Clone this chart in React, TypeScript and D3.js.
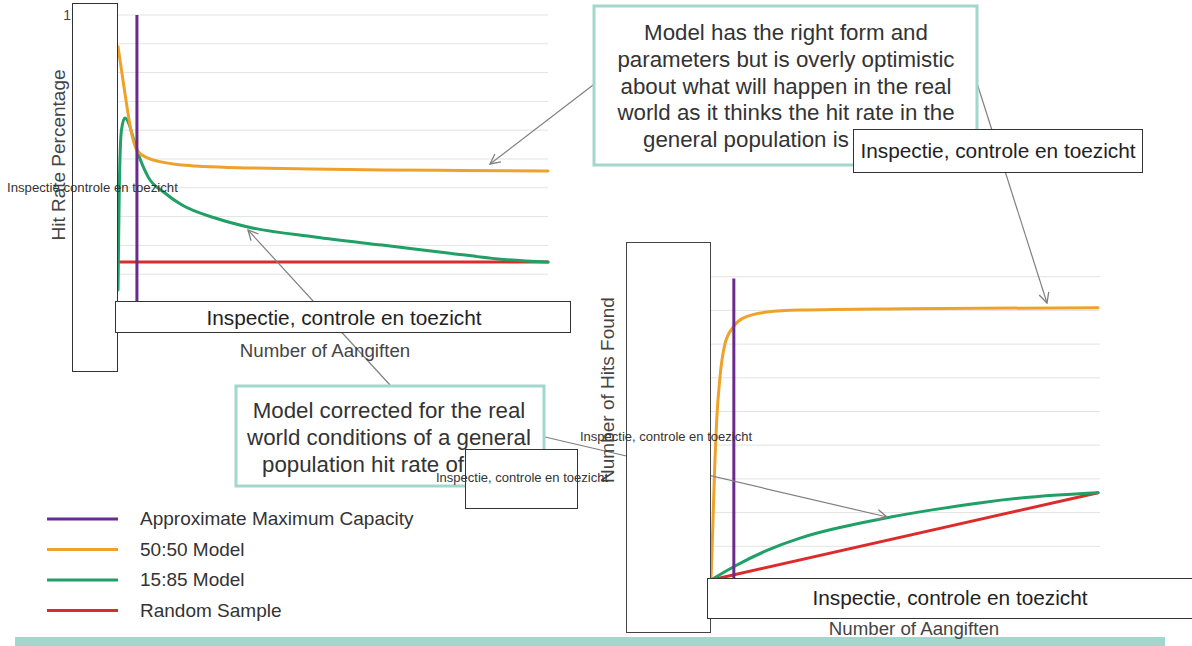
import React from 'react';
import * as d3 from 'd3';

// ---------- data ----------
const leftX50 = [0, 1, 2, 3, 4.4, 7, 10, 14.9, 20, 30.2, 45, 61.4, 80, 100];
const leftHit50 = [0.89, 0.79, 0.69, 0.6, 0.531, 0.503, 0.49, 0.479, 0.474, 0.469, 0.465, 0.462, 0.46, 0.458];
const leftX15 = [0, 0.3, 0.8, 1.6, 2.6, 3.5, 4.4, 7, 10.9, 14.9, 22.6, 30.2, 45.8, 61.4, 76.7, 88.4, 100];
const leftHit15 = [0.045, 0.4, 0.6, 0.642, 0.62, 0.575, 0.531, 0.438, 0.382, 0.34, 0.295, 0.264, 0.229, 0.201, 0.174, 0.153, 0.142];
const leftXRandom = [0, 100];
const leftHitRandom = [0.142, 0.142];
const leftCapacity = 4.4;
const leftTicks = [0.1, 0.2, 0.3, 0.4, 0.5, 0.6, 0.7, 0.8, 0.9, 1];

const rightX50 = [0, 0.5, 1, 1.5, 2.3, 3.6, 5.7, 8.3, 14.5, 23, 50, 100];
const rightHits50 = [0, 0.17, 0.35, 0.48, 0.6, 0.7, 0.75, 0.777, 0.795, 0.801, 0.805, 0.808];
const rightX15 = [0, 5.7, 14.5, 23, 31.5, 45.5, 57.4, 70.3, 83.2, 100];
const rightHits15 = [0, 0.04, 0.09, 0.126, 0.152, 0.186, 0.209, 0.231, 0.248, 0.259];
const rightXRandom = [0, 100];
const rightHitsRandom = [0, 0.259];
const rightCapacity = 5.9;
const rightCapacityTop = 0.895;
const rightTicks = [0.1, 0.2, 0.3, 0.4, 0.5, 0.6, 0.7, 0.8, 0.9];

const legendLabels = ['Approximate Maximum Capacity', '50:50 Model', '15:85 Model', 'Random Sample'];
const legendColors = ['#6a2a8e', '#eea22a', '#20a066', '#dc2b2b'];

const boxLabel = 'Inspectie, controle en toezicht';
const topNote = [
  'Model has the right form and',
  'parameters but is overly optimistic',
  'about what will happen in the real',
  'world as it thinks the hit rate in the',
];
const topNoteLast = 'general population is';
const bottomNote = ['Model corrected for the real', 'world conditions of a general'];
const bottomNoteLast = 'population hit rate of';

const FONT = '"Liberation Sans", Arial, Helvetica, sans-serif';
const PURPLE = legendColors[0];
const ORANGE = legendColors[1];
const GREEN = legendColors[2];
const RED = legendColors[3];
const TEAL = '#a3d6cc';
const GRID = '#e3e3e3';
const ARROW = '#808080';

export default function App() {
  const lx = d3.scaleLinear().domain([0, 100]).range([118, 548]);
  const ly = d3.scaleLinear().domain([0, 1]).range([303, 15]);
  const rx = d3.scaleLinear().domain([0, 100]).range([711, 1098]);
  const ry = d3.scaleLinear().domain([0, 1]).range([580, 243]);

  const mk = (xs: number[], ys: number[], sx: any, sy: any, curve: any) =>
    d3
      .line<number>()
      .x((_, i) => sx(xs[i]))
      .y((d) => sy(d))
      .curve(curve)(ys) as string;

  const series = (xs: number[], ys: number[], sx: any, sy: any, color: string, curve: any = d3.curveMonotoneX) => (
    <path d={mk(xs, ys, sx, sy, curve)} fill="none" stroke={color} strokeWidth={3} strokeLinejoin="round" strokeLinecap="round" />
  );

  return (
    <svg
      width={1192}
      height={646}
      style={{ position: 'absolute', left: 0, top: 0, background: '#fff' }}
      fontFamily={FONT}
    >
      <defs>
        <marker id="arr" viewBox="0 0 12 12" refX="11" refY="6" markerWidth="12" markerHeight="12" markerUnits="userSpaceOnUse" orient="auto">
          <path d="M1,1 L11,6 L1,11" fill="none" stroke={ARROW} strokeWidth={1.3} />
        </marker>
      </defs>

      {/* bottom bar */}
      <rect x={15} y={637} width={1150} height={9} fill={TEAL} />

      {/* left chart */}
      {leftTicks.map((t) => (
        <line key={'lg' + t} x1={lx(0)} x2={lx(100)} y1={ly(t)} y2={ly(t)} stroke={GRID} strokeWidth={1} />
      ))}
      {series(leftXRandom, leftHitRandom, lx, ly, RED)}
      {series(leftX15, leftHit15, lx, ly, GREEN)}
      {series(leftX50, leftHit50, lx, ly, ORANGE)}
      <line x1={lx(leftCapacity)} x2={lx(leftCapacity)} y1={ly(1)} y2={ly(0)} stroke={PURPLE} strokeWidth={3} />
      <text x={71} y={20} fontSize={14} textAnchor="end" fill="#444">1</text>

      {/* right chart */}
      {rightTicks.map((t) => (
        <line key={'rg' + t} x1={rx(0)} x2={rx(100) + 2} y1={ry(t)} y2={ry(t)} stroke={GRID} strokeWidth={1} />
      ))}
      {series(rightXRandom, rightHitsRandom, rx, ry, RED)}
      {series(rightX15, rightHits15, rx, ry, GREEN, d3.curveBasis)}
      {series(rightX50, rightHits50, rx, ry, ORANGE)}
      <line x1={rx(rightCapacity)} x2={rx(rightCapacity)} y1={ry(rightCapacityTop)} y2={ry(0)} stroke={PURPLE} strokeWidth={3} />

      {/* arrows */}
      <line x1={597} y1={82} x2={490} y2={164} stroke={ARROW} strokeWidth={1.2} markerEnd="url(#arr)" />
      <line x1={976} y1={80} x2={1047} y2={303} stroke={ARROW} strokeWidth={1.2} markerEnd="url(#arr)" />
      <line x1={390} y1={385} x2={248} y2={230} stroke={ARROW} strokeWidth={1.2} markerEnd="url(#arr)" />
      <line x1={545} y1={437} x2={887} y2={517} stroke={ARROW} strokeWidth={1.2} markerEnd="url(#arr)" />

      {/* annotation boxes */}
      <rect x={594} y={6} width={383} height={159} fill="#fff" stroke={TEAL} strokeWidth={3} />
      {topNote.map((t, i) => (
        <text key={'tn' + i} x={786} y={40 + i * 26.8} fontSize={22.3} textAnchor="middle" fill="#333">{t}</text>
      ))}
      <text x={643} y={147} fontSize={22.3} fill="#333">{topNoteLast}</text>

      <rect x={236} y={386} width={308} height={100} fill="#fff" stroke={TEAL} strokeWidth={3} />
      {bottomNote.map((t, i) => (
        <text key={'bn' + i} x={389} y={418 + i * 27} fontSize={22.3} textAnchor="middle" fill="#333">{t}</text>
      ))}
      <text x={262} y={472} fontSize={22.3} fill="#333">{bottomNoteLast}</text>

      {/* white cover boxes */}
      <rect x={72.5} y={3.5} width={45} height={368} fill="#fff" stroke="#333" strokeWidth={1} />
      <rect x={115.5} y={301.5} width={455} height={31} fill="#fff" stroke="#333" strokeWidth={1} />
      <text x={344} y={325} fontSize={20.8} textAnchor="middle" fill="#222">{boxLabel}</text>

      <rect x={626.5} y={242.5} width={84} height={390} fill="#fff" stroke="#444" strokeWidth={1} />
      <rect x={707.5} y={578.5} width={490} height={40} fill="#fff" stroke="#333" strokeWidth={1} />
      <text x={950} y={605} fontSize={20.8} textAnchor="middle" fill="#222">{boxLabel}</text>

      <rect x={853.5} y={129.5} width={289} height={43} fill="#fff" stroke="#333" strokeWidth={1} />
      <text x={998} y={158} fontSize={20.8} textAnchor="middle" fill="#222">{boxLabel}</text>

      <rect x={465.5} y={449.5} width={112} height={59} fill="#fff" stroke="#333" strokeWidth={1} />

      {/* axis titles */}
      <text transform="translate(58,155) rotate(-90)" fontSize={19} textAnchor="middle" dominantBaseline="central" fill="#444">
        Hit Rate Percentage
      </text>
      <text x={325} y={357} fontSize={18.7} textAnchor="middle" fill="#444">Number of Aangiften</text>
      <text transform="translate(607,390) rotate(-90)" fontSize={19} textAnchor="middle" dominantBaseline="central" fill="#444">
        Number of Hits Found
      </text>
      <text x={914} y={635} fontSize={18.7} textAnchor="middle" fill="#444">Number of Aangiften</text>

      {/* small overflow labels */}
      <text x={7} y={192} fontSize={13.2} fill="#333">Inspectie controle en toezicht</text>
      <text x={580} y={441} fontSize={13} fill="#333">{boxLabel}</text>
      <text x={436} y={482} fontSize={13} fill="#333">{boxLabel}</text>

      {/* legend */}
      {legendLabels.map((l, i) => (
        <g key={'lg' + l}>
          <line x1={47} x2={118} y1={519 + i * 30.5} y2={519 + i * 30.5} stroke={legendColors[i]} strokeWidth={3} />
          <text x={140} y={525 + i * 30.5} fontSize={19} fill="#333">{l}</text>
        </g>
      ))}
    </svg>
  );
}
